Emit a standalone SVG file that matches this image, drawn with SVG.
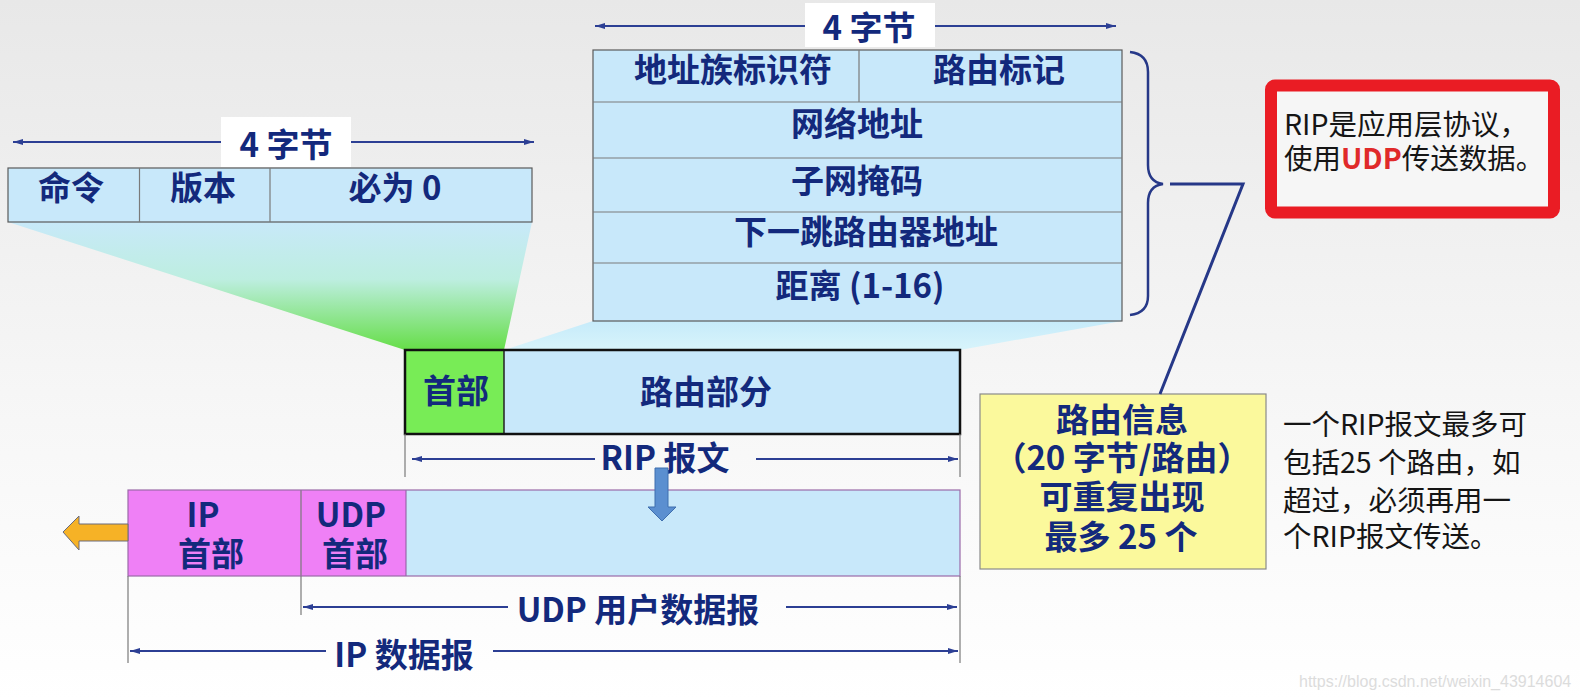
<svg xmlns="http://www.w3.org/2000/svg" width="1580" height="700" viewBox="0 0 1580 700">
<defs>
<linearGradient id="bg" x1="0" y1="0" x2="0" y2="1">
<stop offset="0" stop-color="#e8e8e8"/>
<stop offset="0.6" stop-color="#f7f7f7"/>
<stop offset="1" stop-color="#ffffff"/>
</linearGradient>
<linearGradient id="fl" x1="0" y1="0" x2="0" y2="1">
<stop offset="0" stop-color="#c8e9f9"/>
<stop offset="0.45" stop-color="#bdeee0"/>
<stop offset="1" stop-color="#66de48"/>
</linearGradient>
<linearGradient id="fr" x1="0" y1="0" x2="0" y2="1">
<stop offset="0" stop-color="#c6ebfa"/>
<stop offset="1" stop-color="#d8f4fb"/>
</linearGradient>
<marker id="ah" viewBox="0 0 10 6" refX="10" refY="3" markerWidth="10" markerHeight="6" markerUnits="userSpaceOnUse" orient="auto-start-reverse">
<path d="M0,0 L10,3 L0,6 z" fill="#2c3f94"/>
</marker>
<style>
.b{font-family:"Noto Sans CJK SC","Noto Sans",sans-serif;font-weight:700;fill:#13297c;font-size:33px;text-anchor:middle}
.n{font-family:"Noto Sans CJK SC","Noto Sans",sans-serif;font-weight:400;fill:#151515;font-size:28.5px}
.cell{fill:#c8e8fa;stroke:#5a5a5a;stroke-width:1.2}
.dim{stroke:#2c3f94;stroke-width:2;fill:none}
.tick{stroke:#7a7a7a;stroke-width:1.2;fill:none}
.nv{stroke:#263888;fill:none}
</style>
</defs>
<rect x="0" y="0" width="1580" height="700" fill="url(#bg)"/>

<!-- funnels -->
<polygon points="8,222 532,222 504,350 405,350" fill="url(#fl)"/>
<polygon points="593,321 1122,321 960,350 504,350" fill="url(#fr)"/>

<!-- RIP header table -->
<g id="rip-header">
<line class="dim" x1="13" y1="142" x2="534" y2="142" marker-start="url(#ah)" marker-end="url(#ah)"/>
<rect x="221" y="117" width="130" height="50" fill="#ffffff"/>
<text class="b" x="286" y="157">4 字节</text>
<rect class="cell" x="8" y="168" width="524" height="54"/>
<line class="tick" x1="139.5" y1="168" x2="139.5" y2="222"/>
<line class="tick" x1="270" y1="168" x2="270" y2="222"/>
<text class="b" x="71" y="200">命令</text>
<text class="b" x="203" y="200">版本</text>
<text class="b" x="395" y="200">必为 0</text>
</g>

<!-- route entry table -->
<g id="route-entry">
<line class="dim" x1="595" y1="26" x2="1116" y2="26" marker-start="url(#ah)" marker-end="url(#ah)"/>
<rect x="805" y="3" width="130" height="44" fill="#ffffff"/>
<text class="b" x="869" y="40">4 字节</text>
<rect class="cell" x="593" y="50" width="529" height="271"/>
<line class="tick" x1="859" y1="50" x2="859" y2="102"/>
<line class="tick" x1="593" y1="102" x2="1122" y2="102"/>
<line class="tick" x1="593" y1="158" x2="1122" y2="158"/>
<line class="tick" x1="593" y1="212" x2="1122" y2="212"/>
<line class="tick" x1="593" y1="263" x2="1122" y2="263"/>
<text class="b" x="733" y="82">地址族标识符</text>
<text class="b" x="999" y="82">路由标记</text>
<text class="b" x="857" y="136">网络地址</text>
<text class="b" x="857" y="193">子网掩码</text>
<text class="b" x="866" y="244">下一跳路由器地址</text>
<text class="b" x="860" y="298">距离 (1-16)</text>
</g>

<!-- RIP message -->
<g id="rip-message">
<rect x="405" y="350" width="555" height="84" fill="#c8e8fa"/>
<rect x="405" y="350" width="99" height="84" fill="#78ec56"/>
<line x1="504" y1="350" x2="504" y2="434" stroke="#222" stroke-width="1.5"/>
<rect x="405" y="350" width="555" height="84" fill="none" stroke="#111" stroke-width="2.5"/>
<text class="b" x="456" y="403">首部</text>
<text class="b" x="706" y="404">路由部分</text>
</g>

<!-- IP datagram -->
<g id="ip-datagram">
<rect x="128" y="490" width="832" height="86" fill="#c8e8fa"/>
<rect x="128" y="490" width="278" height="86" fill="#ef80f6"/>
<line class="tick" x1="301" y1="490" x2="301" y2="576"/>
<line x1="406" y1="490" x2="406" y2="576" stroke="#8a5a9a" stroke-width="1"/>
<rect x="128" y="490" width="832" height="86" fill="none" stroke="#9a6aa8" stroke-width="1.2"/>
<text class="b" x="203" y="527">IP</text>
<text class="b" x="211" y="566">首部</text>
<text class="b" x="351" y="527">UDP</text>
<text class="b" x="355" y="566">首部</text>
</g>

<!-- route info note -->
<g id="route-info">
<rect x="980" y="394" width="286" height="175" fill="#fbf99c" stroke="#8a8a8a" stroke-width="1.2"/>
<text class="b" x="1122" y="432">路由信息</text>
<text class="b" x="1122" y="470">（20 字节/路由）</text>
<text class="b" x="1122" y="509">可重复出现</text>
<text class="b" x="1121" y="549">最多 25 个</text>
</g>

<!-- right explanation -->
<g id="explain">
<text class="n" x="1283" y="435">一个RIP报文最多可</text>
<text class="n" x="1283" y="473">包括25 个路由，如</text>
<text class="n" x="1283" y="511">超过，必须再用一</text>
<text class="n" x="1283" y="547">个RIP报文传送。</text>
</g>

<!-- red note -->
<g id="udp-note">
<rect x="1271" y="85.5" width="283" height="127" rx="4" fill="#f6f6f6" stroke="#ea1c24" stroke-width="12"/>
<text class="n" x="1284" y="135" font-size="27">RIP是应用层协议，</text>
<text class="n" x="1284" y="169" font-size="27">使用<tspan fill="#e02a2a" font-weight="700">UDP</tspan>传送数据。</text>
</g>

<!-- connectors -->
<g id="connectors">
<path class="nv" stroke-width="2.5" d="M1130,52 Q1148,54 1148,72 L1148,165 Q1148,182 1163,184 Q1148,186 1148,203 L1148,296 Q1148,313 1130,315"/>
<polyline class="nv" stroke-width="3" points="1170,184 1243,184 1160,394"/>

<line class="tick" x1="405" y1="434" x2="405" y2="477"/>
<line class="tick" x1="960" y1="434" x2="960" y2="477"/>
<line class="dim" x1="412" y1="459" x2="595" y2="459" marker-start="url(#ah)"/>
<line class="dim" x1="756" y1="459" x2="958" y2="459" marker-end="url(#ah)"/>
<text class="b" x="665" y="470" font-size="31">RIP 报文</text>

<polygon points="655,468 668,468 668,507 676,507 662,521 648,507 655,507" fill="#5b8fd0" stroke="#3f6fae" stroke-width="1"/>

<polygon points="128,524 79,524 79,516 63,532 79,550 79,541 128,541" fill="#f6b226" stroke="#6a6a7a" stroke-width="1"/>

<line class="tick" x1="301" y1="576" x2="301" y2="615"/>
<line class="dim" x1="303" y1="607" x2="508" y2="607" marker-start="url(#ah)"/>
<line class="dim" x1="786" y1="607" x2="957" y2="607" marker-end="url(#ah)"/>
<text class="b" x="638" y="622" font-size="32">UDP 用户数据报</text>

<line class="tick" x1="128" y1="576" x2="128" y2="663"/>
<line class="tick" x1="960" y1="576" x2="960" y2="663"/>
<line class="dim" x1="130" y1="651" x2="326" y2="651" marker-start="url(#ah)"/>
<line class="dim" x1="493" y1="651" x2="958" y2="651" marker-end="url(#ah)"/>
<text class="b" x="404" y="667" font-size="32">IP 数据报</text>
</g>

<text x="1299" y="687" font-family="Liberation Sans, Arial, sans-serif" font-size="16" fill="#dcdcdc">https://blog.csdn.net/weixin_43914604</text>
</svg>
